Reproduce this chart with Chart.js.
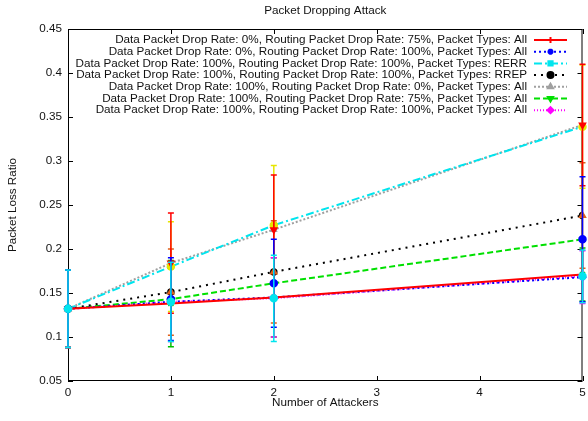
<!DOCTYPE html>
<html>
<head>
<meta charset="utf-8">
<script src="https://cdn.jsdelivr.net/npm/chart.js@4"></script>
<style>
  html, body { margin: 0; padding: 0; background: #fff; }
</style>
</head>
<body>
<canvas id="graficoPerda" width="588" height="421"></canvas>
<script>
// Eixo X: número de atacantes
const atacantes = [0, 1, 2, 5];

const rotulos = [
    'Data Packet Drop Rate: 0%, Routing Packet Drop Rate: 75%, Packet Types: All',
    'Data Packet Drop Rate: 0%, Routing Packet Drop Rate: 100%, Packet Types: All',
    'Data Packet Drop Rate: 100%, Routing Packet Drop Rate: 100%, Packet Types: RERR',
    'Data Packet Drop Rate: 100%, Routing Packet Drop Rate: 100%, Packet Types: RREP',
    'Data Packet Drop Rate: 100%, Routing Packet Drop Rate: 0%, Packet Types: All',
    'Data Packet Drop Rate: 100%, Routing Packet Drop Rate: 75%, Packet Types: All',
    'Data Packet Drop Rate: 100%, Routing Packet Drop Rate: 100%, Packet Types: All'
];

// Perda média por série
const perda0_75 = [0.132, 0.138, 0.145, 0.171];
const perda0_100 = [0.132, 0.140, 0.145, 0.168];
const perdaRERR = [0.132, 0.180, 0.227, 0.339];
const perdaRREP = [0.132, 0.151, 0.174, 0.238];
const perda100_0 = [0.132, 0.184, 0.222, 0.341];
const perda100_75 = [0.132, 0.143, 0.161, 0.211];
const perda100_100 = [0.132, 0.140, 0.144, 0.169];

// Meia largura das barras de erro
const erro0_75 = [0.044, 0.049, 0.045, 0.030];
const erro0_100 = [0.044, 0.045, 0.045, 0.030];
const erroRERR = [0.044, 0.051, 0.068, 0.070];
const erroRREP = [0.044, 0.049, 0.058, 0.060];
const erro100_0 = [0.044, 0.057, 0.062, 0.069];
const erro100_75 = [0.044, 0.047, 0.050, 0.071];
const erro100_100 = [0.044, 0.045, 0.049, 0.030];

const ticksX = [0, 1, 2, 3, 4, 5];
const ticksY = [0.05, 0.1, 0.15, 0.2, 0.25, 0.3, 0.35, 0.4, 0.45];

const FONTE = 'Liberation Sans, Arial, sans-serif';
const TAM = 11.7;

const series = [
    { valores: perda0_75, erros: erro0_75, cor: '#ff0000', traco: [], marcador: 'cross', rot: 0, corErro: '#00c000', marcErro: 'crossRot', rotErro: 0 },
    { valores: perda0_100, erros: erro0_100, cor: '#0000ff', traco: [2, 3], marcador: 'star', rot: 0, corErro: '#ff00ff', marcErro: 'rectRot', rotErro: 0 },
    { valores: perdaRERR, erros: erroRERR, cor: '#00e5ee', traco: [8, 3, 2, 3], marcador: 'rect', rot: 0, corErro: '#e6e600', marcErro: 'circle', rotErro: 0 },
    { valores: perdaRREP, erros: erroRREP, cor: '#000000', traco: [2, 5], marcador: 'circle', rot: 0, corErro: '#e0601a', marcErro: 'triangle', rotErro: 0 },
    { valores: perda100_0, erros: erro100_0, cor: '#a0a0a0', traco: [2, 2], marcador: 'triangle', rot: 0, corErro: '#ff0000', marcErro: 'triangle', rotErro: 180 },
    { valores: perda100_75, erros: erro100_75, cor: '#00e000', traco: [6, 3], marcador: 'triangle', rot: 180, corErro: '#0000ff', marcErro: 'circle', rotErro: 0 },
    { valores: perda100_100, erros: erro100_100, cor: '#ff00ff', traco: [1, 2], marcador: 'rectRot', rot: 0, corErro: '#00e5ee', marcErro: 'circle', rotErro: 0 }
];

const conjuntos = series.map((s, i) => ({
    label: rotulos[i],
    data: atacantes.map((x, j) => ({ x: x, y: s.valores[j] })),
    borderColor: s.cor,
    backgroundColor: s.cor,
    borderWidth: 2,
    borderDash: s.traco,
    pointStyle: s.marcador,
    pointRotation: s.rot,
    pointRadius: 3,
    pointBorderWidth: 1.5,
    tension: 0,
    fill: false
}));

// Moldura com marcas para dentro, como no gnuplot
const moldura = {
    id: 'moldura',
    beforeDatasetsDraw(chart) {
        const { ctx, chartArea: a, scales } = chart;
        ctx.save();
        ctx.strokeStyle = '#000';
        ctx.lineWidth = 1;
        ctx.strokeRect(a.left + 0.5, a.top + 0.5, a.right - a.left - 1, a.bottom - a.top - 1);
        ctx.beginPath();
        ticksX.forEach(v => {
            const px = Math.round(scales.x.getPixelForValue(v)) + 0.5;
            ctx.moveTo(px, a.bottom); ctx.lineTo(px, a.bottom - 5);
            ctx.moveTo(px, a.top); ctx.lineTo(px, a.top + 5);
        });
        ticksY.forEach(v => {
            const py = Math.round(scales.y.getPixelForValue(v)) + 0.5;
            ctx.moveTo(a.left, py); ctx.lineTo(a.left + 5, py);
            ctx.moveTo(a.right, py); ctx.lineTo(a.right - 5, py);
        });
        ctx.stroke();
        // título
        ctx.fillStyle = '#111';
        ctx.font = `${TAM}px ${FONTE}`;
        ctx.textAlign = 'center';
        ctx.textBaseline = 'middle';
        ctx.fillText('Packet Dropping Attack', (a.left + a.right) / 2, 11);
        ctx.restore();
    }
};

// Barras de erro desenhadas pelas escalas do gráfico
const barrasErro = {
    id: 'barrasErro',
    afterDatasetsDraw(chart) {
        const { ctx, scales } = chart;
        ctx.save();
        series.forEach(s => {
            ctx.strokeStyle = s.corErro;
            ctx.fillStyle = s.corErro;
            ctx.lineWidth = 1.5;
            ctx.setLineDash([]);
            atacantes.forEach((x, j) => {
                const px = scales.x.getPixelForValue(x);
                const yAlto = scales.y.getPixelForValue(s.valores[j] + s.erros[j]);
                const yBaixo = scales.y.getPixelForValue(s.valores[j] - s.erros[j]);
                ctx.beginPath();
                ctx.moveTo(px, yAlto); ctx.lineTo(px, yBaixo);
                ctx.moveTo(px - 3, yAlto); ctx.lineTo(px + 3, yAlto);
                ctx.moveTo(px - 3, yBaixo); ctx.lineTo(px + 3, yBaixo);
                ctx.stroke();
                Chart.helpers.drawPoint(ctx, {
                    pointStyle: s.marcErro, radius: 3.5, rotation: s.rotErro, borderWidth: 1
                }, px, scales.y.getPixelForValue(s.valores[j]));
            });
        });
        ctx.restore();
    }
};

// Legenda no estilo gnuplot: texto à direita, amostra da linha ao lado
const legenda = {
    id: 'legendaGnuplot',
    afterDraw(chart) {
        const { ctx } = chart;
        ctx.save();
        ctx.font = `${TAM}px ${FONTE}`;
        ctx.textAlign = 'right';
        ctx.textBaseline = 'middle';
        series.forEach((s, i) => {
            const y = 40 + i * 11.7;
            ctx.fillStyle = '#111';
            ctx.fillText(rotulos[i], 527, y);
            ctx.strokeStyle = s.cor;
            ctx.fillStyle = s.cor;
            ctx.lineWidth = 2;
            ctx.setLineDash(s.traco);
            ctx.beginPath();
            ctx.moveTo(534, y); ctx.lineTo(567, y);
            ctx.stroke();
            ctx.setLineDash([]);
            Chart.helpers.drawPoint(ctx, {
                pointStyle: s.marcador, radius: 3, rotation: s.rot, borderWidth: 1.5
            }, 550.5, y);
        });
        ctx.restore();
    }
};

new Chart(document.getElementById('graficoPerda').getContext('2d'), {
    type: 'line',
    data: { datasets: conjuntos },
    options: {
        responsive: false,
        devicePixelRatio: 1,
        animation: false,
        layout: { padding: { top: 29, right: 2, left: 0, bottom: 0 } },
        plugins: {
            legend: { display: false },
            tooltip: { enabled: false },
            title: { display: false }
        },
        scales: {
            x: {
                type: 'linear',
                min: 0,
                max: 5,
                afterBuildTicks: (escala) => { escala.ticks = ticksX.map(v => ({ value: v })); },
                ticks: { padding: 5, color: '#111', font: { family: FONTE, size: TAM }, maxRotation: 0 },
                grid: { display: false, drawTicks: false },
                border: { display: false },
                title: { display: true, text: 'Number of Attackers', color: '#111', font: { family: FONTE, size: TAM }, padding: { top: 2, bottom: 11 } },
                afterFit: (escala) => { escala.height = 40; escala.paddingLeft = 0; escala.paddingRight = 0; }
            },
            y: {
                type: 'linear',
                min: 0.05,
                max: 0.45,
                afterBuildTicks: (escala) => { escala.ticks = ticksY.map(v => ({ value: v })); },
                ticks: {
                    padding: 6, color: '#111', font: { family: FONTE, size: TAM },
                    callback: (v) => String(+v.toFixed(2))
                },
                grid: { display: false, drawTicks: false },
                border: { display: false },
                title: { display: true, text: 'Packet Loss Ratio', color: '#111', font: { family: FONTE, size: TAM }, padding: { top: 6, bottom: 4 } },
                afterFit: (escala) => { escala.width = 68; escala.paddingTop = 0; escala.paddingBottom = 0; }
            }
        }
    },
    plugins: [moldura, barrasErro, legenda]
});
</script>
</body>
</html>
